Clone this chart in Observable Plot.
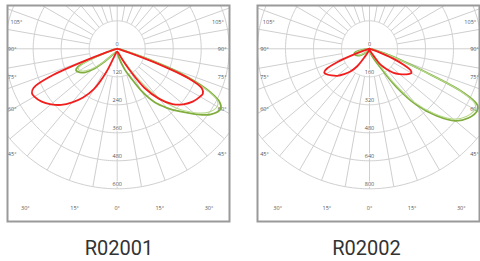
<!DOCTYPE html>
<html><head><meta charset="utf-8">
<script src="https://cdn.jsdelivr.net/npm/d3@7"></script>
<script src="https://cdn.jsdelivr.net/npm/@observablehq/plot@0.6"></script>
<style>
body{margin:0;background:#fff;}
#wrap{position:relative;width:480px;height:261px;overflow:hidden;background:#fff;}
.panel{position:absolute;top:0;}
.cap{position:absolute;top:238px;font-family:Roboto,"Noto Sans",sans-serif;font-size:20px;line-height:20px;color:#333;text-align:center;white-space:nowrap;}
</style></head>
<body><div id="wrap"></div>
<script>
// ---------- data ----------
const titles = ["R02001", "R02002"];
const gammaDeg = [0,10,20,25,30,35,40,45,50,55,60,62.5,65,67.5,70,72.5,75,80,90];
const gridTicks1 = [0,120,240,360,480,600];
const gridTicks2 = [0,160,320,480,640,800];
const angleLabels = [105,90,75,60,45,30,15,0];

// R02001 (cd)
const p1RedC180   = [12,14,30,110,200,255,300,340,370,395,410,412,395,310,120,35,15,6,2];
const p1RedC0     = [12,14,25,45,100,205,280,335,370,395,410,414,400,330,170,50,18,6,2];
const p1GreenC270 = [15,14,15,16,20,28,40,80,138,178,196,199,188,150,80,35,15,6,2];
const p1GreenC90  = [15,35,95,135,210,280,330,380,435,490,512,495,440,350,230,110,40,12,3];
const p1LightC270 = [13,12,13,14,18,25,36,70,125,165,185,188,178,140,72,30,13,5,2];
const p1LightC90  = [13,15,30,45,75,160,270,360,425,475,495,485,430,335,215,100,35,10,3];

// R02002 (cd)
const p2RedC180   = [8,9,15,25,50,120,170,205,240,265,288,292,270,200,90,30,12,5,2];
const p2RedC0     = [8,9,15,25,45,110,150,195,225,255,276,265,215,140,60,25,10,4,2];
const p2GreenC270 = [10,9,8,8,9,12,18,27,45,65,78,82,86,89,90,90,88,60,12];
const p2GreenC90  = [10,20,45,70,120,260,420,540,640,690,710,695,590,340,190,110,50,18,10];
const p2LightC270 = [9,8,7,7,8,11,16,24,40,58,70,74,78,80,81,81,79,54,10];
const p2LightC90  = [10,15,30,45,75,220,400,525,625,675,695,680,575,325,180,100,45,16,8];

// ---------- helpers ----------
const rad = d => d * Math.PI / 180;
function curve(leftVals, rightVals, outer) {
  const pts = [];
  for (let i = gammaDeg.length - 1; i >= 0; i--) {
    const g = rad(gammaDeg[i]), r = leftVals[i] / outer;
    pts.push({x: -r * Math.sin(g), y: -r * Math.cos(g)});
  }
  for (let i = 1; i < gammaDeg.length; i++) {
    const g = rad(gammaDeg[i]), r = rightVals[i] / outer;
    pts.push({x: r * Math.sin(g), y: -r * Math.cos(g)});
  }
  return pts;
}

function panel(cfg) {
  const ticks = cfg.ticks, outer = ticks[ticks.length - 1];
  const circles = [];
  ticks.slice(1).forEach(t => {
    for (let a = 0; a <= 360; a += 1) circles.push({k: t, x: (t/outer) * Math.sin(rad(a)), y: (t/outer) * Math.cos(rad(a))});
  });
  const spokes = [];
  for (let a = 0; a < 360; a += 10) {
    const r0 = (a % 90 === 0) ? 0 : ticks[1] / outer;
    spokes.push({x1: r0 * Math.sin(rad(a)), y1: -r0 * Math.cos(rad(a)), x2: Math.sin(rad(a)), y2: -Math.cos(rad(a))});
  }
  const rLabels = ticks.map(t => ({x: 0, y: -t / outer, t: String(t)}));
  const pxU = 140; // px per outer-circle radius
  const xIn = 105 / pxU, yIn = 159 / pxU, tIn = 27 / pxU;
  const aLabels = [];
  angleLabels.forEach(a => {
    [-1, 1].forEach(s => {
      if (a === 0 && s === -1) return;
      const sx = Math.sin(rad(a)), cy = -Math.cos(rad(a));
      let t = Infinity;
      if (sx > 1e-6) t = Math.min(t, xIn / sx);
      if (cy < -1e-6) t = Math.min(t, yIn / -cy);
      if (cy > 1e-6) t = Math.min(t, tIn / cy);
      aLabels.push({x: s * sx * t, y: cy * t, t: a + "°"});
    });
  });
  return Plot.plot({
    width: cfg.width, height: 226,
    marginLeft: 7, marginRight: cfg.mr, marginTop: 5, marginBottom: 5,
    x: {domain: cfg.xd, axis: null},
    y: {domain: [-1.2336, 0.3093], axis: null},
    style: {fontFamily: "'Open Sans', 'DejaVu Sans', sans-serif", background: "white"},
    marks: [
      Plot.line(circles, {x: "x", y: "y", z: "k", stroke: "#cfcfcf", strokeWidth: 1, clip: true}),
      Plot.link(spokes, {x1: "x1", y1: "y1", x2: "x2", y2: "y2", stroke: "#cfcfcf", strokeWidth: 1, clip: true}),
      Plot.text(rLabels, {x: "x", y: "y", text: "t", dy: -5, fontSize: 5.5, fill: "#555", stroke: "white", strokeWidth: 1.5}),
      Plot.text(aLabels, {x: "x", y: "y", text: "t", fontSize: 5.5, fill: "#555"}),
      Plot.line(curve(cfg.gL, cfg.gR, outer), {x: "x", y: "y", stroke: "#80ad3e", strokeWidth: 1.8, curve: "catmull-rom", clip: true}),
      Plot.line(curve(cfg.lL, cfg.lR, outer), {x: "x", y: "y", stroke: "#b9da90", strokeWidth: 1.1, curve: "catmull-rom", clip: true}),
      Plot.line(curve(cfg.rL, cfg.rR, outer), {x: "x", y: "y", stroke: "#f21d1d", strokeWidth: 1.8, curve: "catmull-rom", clip: true}),
      Plot.frame({stroke: "#9a9a9a", strokeWidth: 2})
    ]
  });
}

const wrap = document.getElementById("wrap");
const cfgs = [
  {left: 0, width: 240, mr: 11, xd: [-109.7/140, 112.3/140], ticks: gridTicks1,
   rL: p1RedC180, rR: p1RedC0, gL: p1GreenC270, gR: p1GreenC90, lL: p1LightC270, lR: p1LightC90, capX: 119},
  {left: 250, width: 230, mr: 1, xd: [-112/140, 110/140], ticks: gridTicks2,
   rL: p2RedC180, rR: p2RedC0, gL: p2GreenC270, gR: p2GreenC90, lL: p2LightC270, lR: p2LightC90, capX: 366.5}
];
cfgs.forEach((c, i) => {
  const d = document.createElement("div");
  d.className = "panel"; d.style.left = c.left + "px";
  d.appendChild(panel(c));
  wrap.appendChild(d);
  const cap = document.createElement("div");
  cap.className = "cap"; cap.textContent = titles[i];
  cap.style.left = (c.capX - 60) + "px"; cap.style.width = "120px";
  wrap.appendChild(cap);
});
</script>
</body></html>
